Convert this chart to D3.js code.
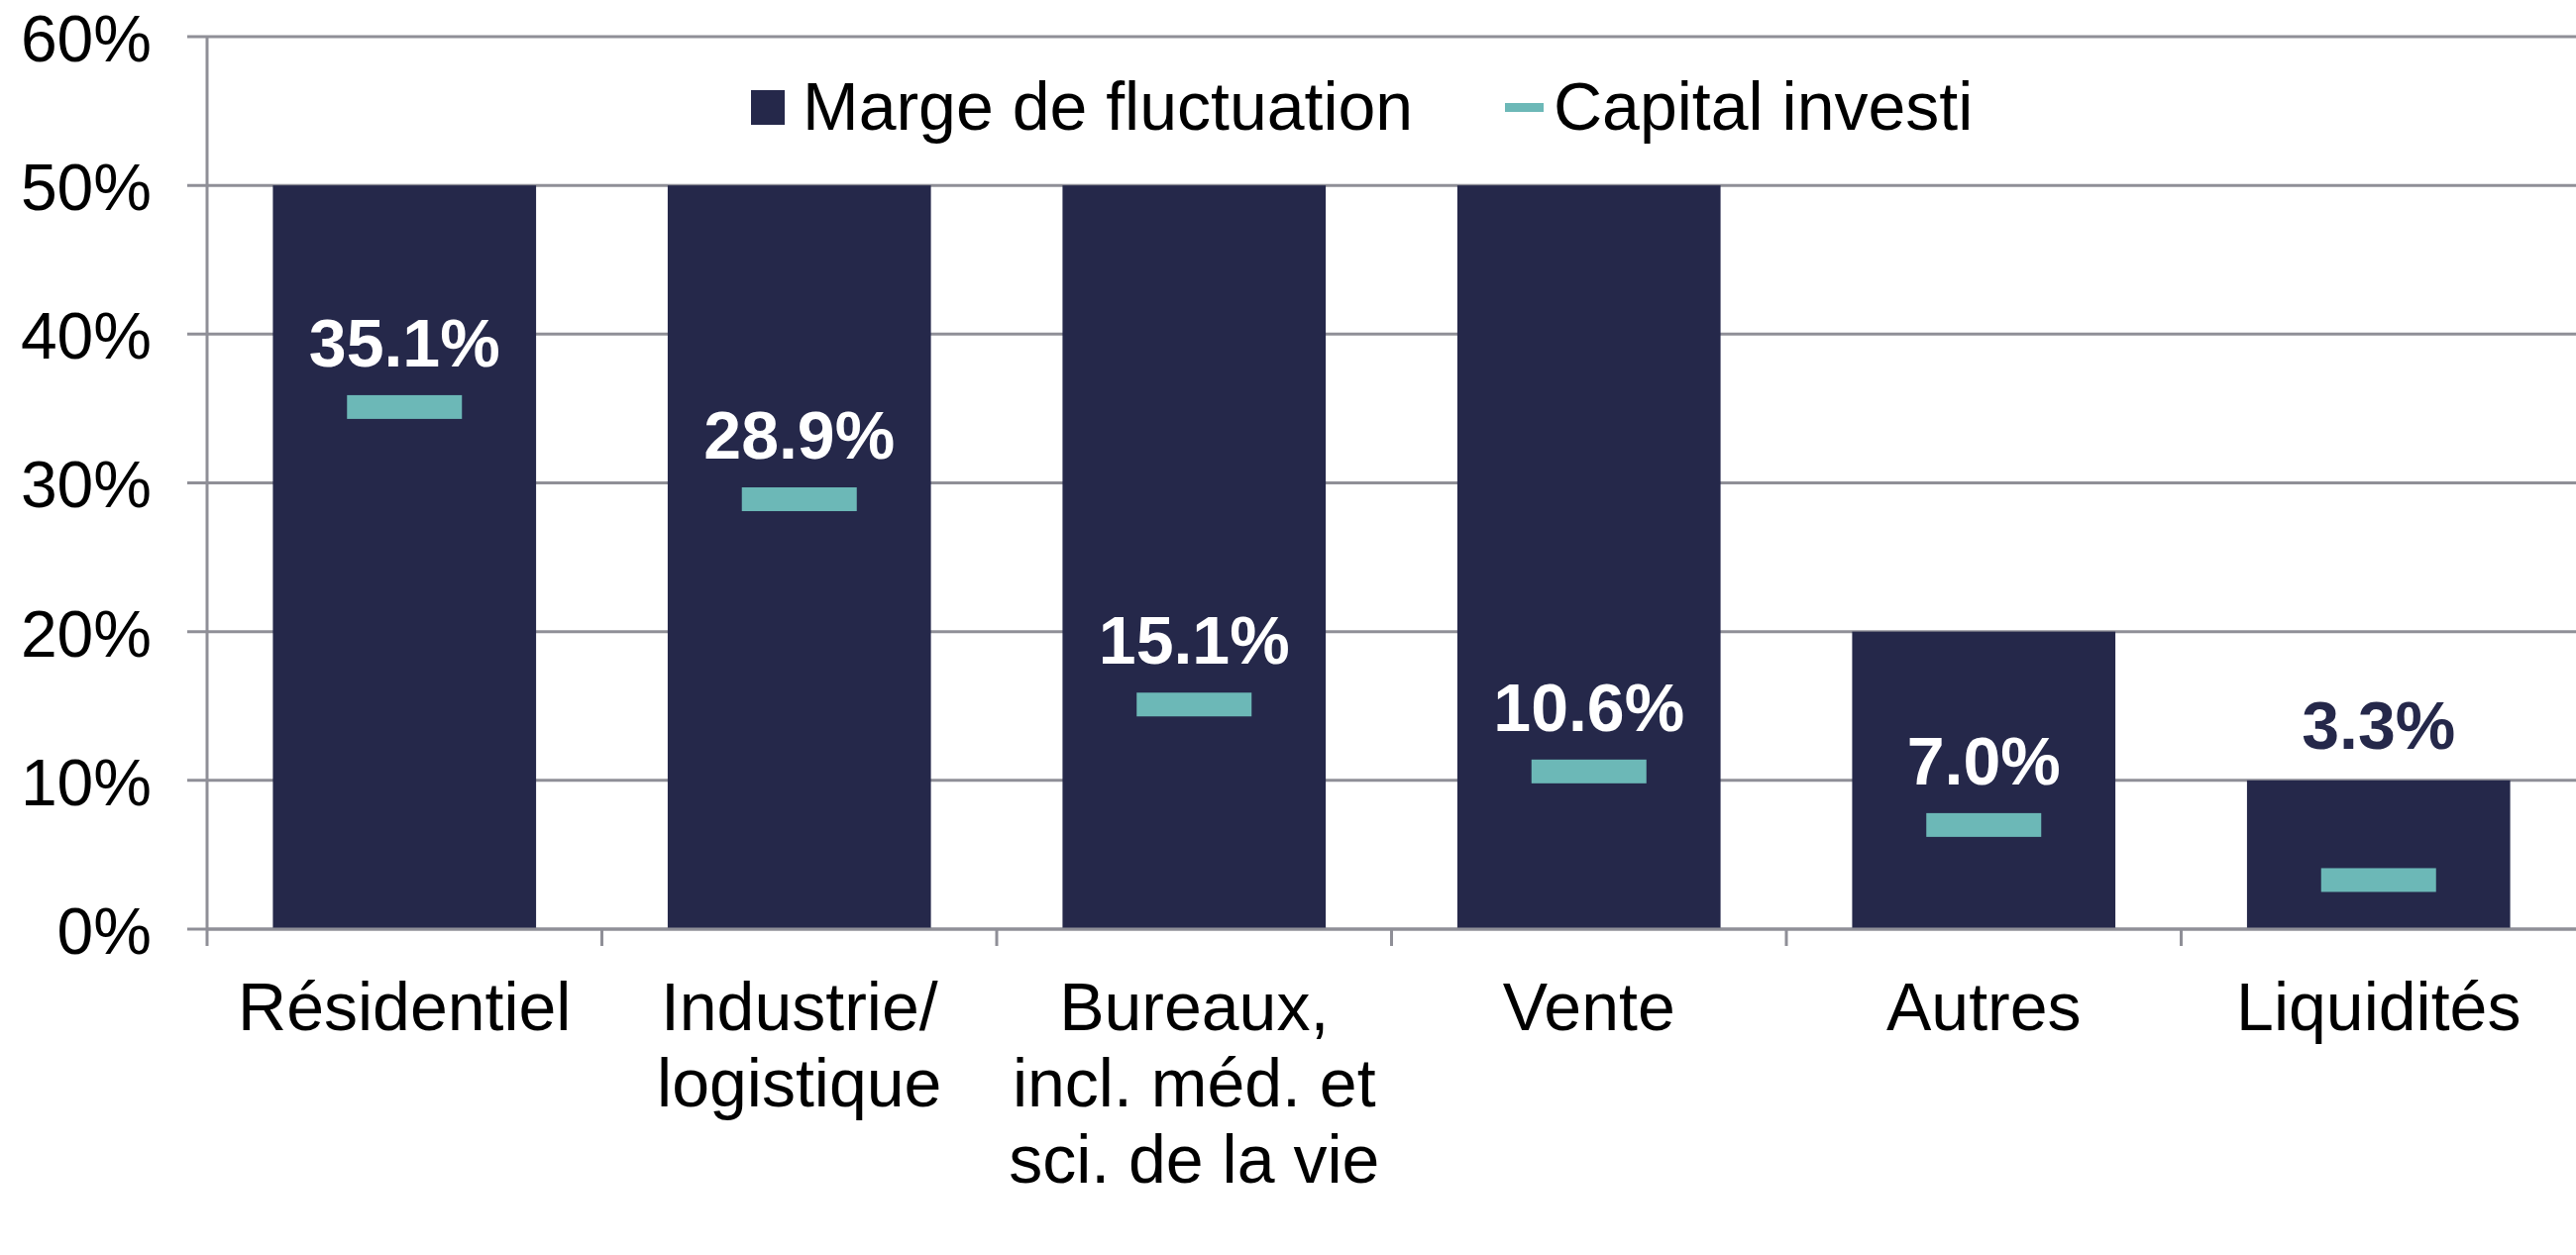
<!DOCTYPE html>
<html>
<head>
<meta charset="utf-8">
<script src="https://cdn.jsdelivr.net/npm/d3@7"></script>
<style>
  body { margin: 0; background: #fff; }
  svg { display: block; font-family: "Liberation Sans", Arial, sans-serif; }
</style>
</head>
<body>
<svg id="chart" width="2600" height="1267"></svg>
<script>
(function() {
  // {{{ data
  var categories = ["Résidentiel", "Industrie/\nlogistique", "Bureaux,\nincl. méd. et\nsci. de la vie", "Vente", "Autres", "Liquidités"];
  var marge = [0.50, 0.50, 0.50, 0.50, 0.20, 0.10];      // Marge de fluctuation
  var capital = [0.351, 0.289, 0.151, 0.106, 0.070, 0.033]; // Capital investi
  var yTicks = [0, 0.1, 0.2, 0.3, 0.4, 0.5, 0.6];
  var seriesNames = ["Marge de fluctuation", "Capital investi"];
  // }}}

  var left = 209, right = 2600, top = 37, bottom = 938;
  var BAR = "#25284a", TEAL = "#6cb8b7", GRID = "#8f8f97";
  var FS = 68;

  var svg = d3.select("#chart");

  var x = d3.scaleBand()
    .domain(categories)
    .range([left, right])
    .paddingInner(1 / 3)
    .paddingOuter(1 / 6);

  var y = d3.scaleLinear().domain([0, 0.6]).range([bottom, top]);

  // gridlines
  svg.append("g")
    .selectAll("line")
    .data(yTicks)
    .enter()
    .append("line")
      .attr("x1", left - 20)
      .attr("x2", right)
      .attr("y1", function(d) { return y(d); })
      .attr("y2", function(d) { return y(d); })
      .attr("stroke", GRID)
      .attr("stroke-width", 3);

  // y axis labels through d3 axis
  var yAxis = svg.append("g")
    .attr("transform", "translate(" + left + ",0)")
    .call(d3.axisLeft(y).tickValues(yTicks).tickFormat(d3.format(".0%")).tickSize(0).tickPadding(56));
  yAxis.select(".domain").remove();
  yAxis.selectAll("text")
    .attr("font-size", 66)
    .attr("dy", "0.37em")
    .attr("font-family", "Liberation Sans, Arial, sans-serif")
    .attr("fill", "#000");

  // bars (range)
  svg.append("g")
    .selectAll("rect")
    .data(marge)
    .enter()
    .append("rect")
      .attr("x", function(d, i) { return x(categories[i]); })
      .attr("y", function(d) { return y(d); })
      .attr("width", x.bandwidth())
      .attr("height", function(d) { return y(0) - y(d); })
      .attr("fill", BAR);

  // vertical axis + x axis with ticks at band edges
  var step = x.step();
  svg.append("line")
    .attr("x1", left).attr("x2", left)
    .attr("y1", y(0.6)).attr("y2", bottom + 17)
    .attr("stroke", GRID).attr("stroke-width", 3);
  svg.append("line")
    .attr("x1", left).attr("x2", right)
    .attr("y1", bottom).attr("y2", bottom)
    .attr("stroke", GRID).attr("stroke-width", 3);
  svg.append("g")
    .selectAll("line")
    .data(d3.range(1, categories.length))
    .enter()
    .append("line")
      .attr("x1", function(i) { return left + i * step; })
      .attr("x2", function(i) { return left + i * step; })
      .attr("y1", bottom)
      .attr("y2", bottom + 17)
      .attr("stroke", GRID)
      .attr("stroke-width", 3);

  // capital markers
  var mW = 116, mH = 24;
  svg.append("g")
    .selectAll("rect")
    .data(capital)
    .enter()
    .append("rect")
      .attr("x", function(d, i) { return x(categories[i]) + x.bandwidth() / 2 - mW / 2; })
      .attr("y", function(d) { return y(d) - mH / 2; })
      .attr("width", mW)
      .attr("height", mH)
      .attr("fill", TEAL);

  // value labels - above the marker, or above the bar when it won't fit
  function tooTight(d, i) {
    return (y(d) - 41 - FS * 0.72) - y(marge[i]) < 50;
  }
  var fmt = function(d) { return (d * 100).toFixed(1) + "%"; };
  svg.append("g")
    .selectAll("text")
    .data(capital)
    .enter()
    .append("text")
      .attr("x", function(d, i) { return x(categories[i]) + x.bandwidth() / 2; })
      .attr("y", function(d, i) {
        return tooTight(d, i) ? y(marge[i]) - 32 : y(d) - 41;
      })
      .attr("text-anchor", "middle")
      .attr("font-size", FS)
      .attr("font-weight", "bold")
      .attr("fill", function(d, i) { return tooTight(d, i) ? BAR : "#fff"; })
      .text(fmt);

  // category labels
  var catG = svg.append("g")
    .selectAll("text")
    .data(categories)
    .enter()
    .append("text")
      .attr("x", function(d) { return x(d) + x.bandwidth() / 2; })
      .attr("y", 1040)
      .attr("text-anchor", "middle")
      .attr("font-size", FS)
      .attr("fill", "#000");
  catG.selectAll("tspan")
    .data(function(d) { return d.split("\n"); })
    .enter()
    .append("tspan")
      .attr("x", function() { return d3.select(this.parentNode).attr("x"); })
      .attr("dy", function(d, i) { return i === 0 ? 0 : 77; })
      .text(function(d) { return d; });

  // legend
  var lg = svg.append("g");
  lg.append("rect")
    .attr("x", 758).attr("y", 91).attr("width", 34).attr("height", 35)
    .attr("fill", BAR);
  lg.append("text")
    .attr("x", 810).attr("y", 131)
    .attr("font-size", FS)
    .text(seriesNames[0]);
  lg.append("rect")
    .attr("x", 1519).attr("y", 104).attr("width", 39).attr("height", 9)
    .attr("fill", TEAL);
  lg.append("text")
    .attr("x", 1568).attr("y", 131)
    .attr("font-size", FS)
    .text(seriesNames[1]);
})();
</script>
</body>
</html>
